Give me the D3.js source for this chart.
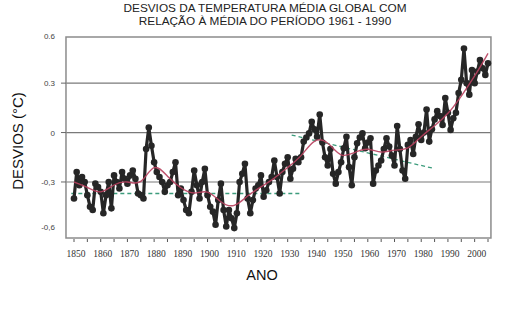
<!DOCTYPE html>
<html><head><meta charset="utf-8">
<script src="https://cdn.jsdelivr.net/npm/d3@7"></script>
<style>
html,body{margin:0;padding:0;background:#fff;}
svg{display:block;}
</style></head>
<body>
<svg id="chart" width="527" height="331"></svg>
<script>
// ---- data ----
const startYear = 1850;
const anomalies = [
 -0.40,-0.24,-0.32,-0.27,-0.30,-0.38,-0.45,-0.47,-0.31,-0.33, // 1850-59
 -0.36,-0.49,-0.38,-0.30,-0.46,-0.26,-0.30,-0.34,-0.24,-0.28, // 1860-69
 -0.31,-0.26,-0.23,-0.28,-0.37,-0.38,-0.40,-0.10, 0.03,-0.08, // 1870-79
 -0.18,-0.24,-0.27,-0.30,-0.36,-0.32,-0.30,-0.24,-0.18,-0.38, // 1880-89
 -0.34,-0.41,-0.47,-0.49,-0.36,-0.23,-0.32,-0.40,-0.30,-0.22, // 1890-99
 -0.38,-0.45,-0.48,-0.56,-0.41,-0.31,-0.47,-0.57,-0.47,-0.52, // 1900-09
 -0.58,-0.49,-0.30,-0.25,-0.19,-0.40,-0.49,-0.41,-0.34,-0.32, // 1910-19
 -0.26,-0.39,-0.35,-0.30,-0.27,-0.17,-0.27,-0.37,-0.24,-0.19, // 1920-29
 -0.15,-0.28,-0.22,-0.16,-0.18,-0.15,-0.055,-0.03,-0.005,0.066, // 1930-39
  0.02,-0.025,0.11,-0.06,-0.15,-0.20,-0.10,-0.25,-0.31,-0.24, // 1940-49
 -0.18,-0.095,-0.025,-0.21,-0.32,-0.15,-0.065,-0.03,-0.005,-0.095, // 1950-59
 -0.06,-0.035,-0.31,-0.23,-0.20,-0.17,-0.10,-0.035,-0.085,-0.14, // 1960-69
 -0.20, 0.04,-0.10,-0.23,-0.28,-0.075,-0.045,-0.13,-0.025,0.05, // 1970-79
 -0.045,0.00, 0.14,-0.055,0.02, 0.08, 0.13, 0.10, 0.046,0.21, // 1980-89
  0.12, 0.016,0.087,0.12, 0.24, 0.32, 0.51, 0.30, 0.23, 0.38, // 1990-99
  0.30, 0.37, 0.44, 0.39, 0.35, 0.42                          // 2000-05
];
const smoothYears = [1850,1855,1860,1865,1870,1875,1880,1885,1890,1895,1900,1905,1910,1915,1920,1925,1930,1935,1940,1945,1950,1955,1960,1965,1970,1975,1980,1985,1990,1995,2000,2005];
const smoothValues = [-0.30,-0.33,-0.38,-0.31,-0.29,-0.33,-0.17,-0.27,-0.34,-0.38,-0.34,-0.43,-0.46,-0.38,-0.33,-0.28,-0.21,-0.15,-0.03,-0.05,-0.16,-0.12,-0.09,-0.13,-0.10,-0.11,-0.02,0.04,0.11,0.22,0.34,0.48];
const trend1 = [{year:1849, value:-0.37},{year:1935, value:-0.37}];
const trend2 = [{year:1931.5, value:-0.015},{year:1984.5, value:-0.217}];
const yTicks = [-0.6,-0.3,0,0.3,0.6];
const yTickLabels = ["-0,6","-0,3","0","0.3","0.6"];
const yGrid = [-0.3,0,0.3];
const xLabelTicks = d3.range(1850, 2001, 10);
const xMinorTicks = d3.range(1850, 2006, 5);
const titleLines = ["DESVIOS DA TEMPERATURA MÉDIA GLOBAL COM","RELAÇÃO À MÉDIA DO PERÍODO 1961 - 1990"];

// ---- scales ----
const svg = d3.select("#chart");
const x = d3.scaleLinear().domain([1850, 2005]).range([74, 488]);
const y = d3.scaleLinear().domain([-0.64, 0.58]).range([238, 37]);
const xL = x(1847), xR = x(2006.1), yT = y(0.58), yB = y(-0.64);

const data = anomalies.map((v,i)=>({year:startYear+i, value:v}));
const smooth = smoothYears.map((yr,i)=>({year:yr, value:smoothValues[i]}));

// title
svg.append("g").selectAll("text").data(titleLines).join("text")
  .attr("x", 265).attr("y",(d,i)=>11.5+i*13)
  .attr("text-anchor","middle")
  .attr("font-family","Liberation Sans, Arial, sans-serif")
  .attr("font-size","11.8px").attr("fill","#222").text(d=>d);

// gridlines
svg.append("g").selectAll("line").data(yGrid).join("line")
  .attr("x1", xL).attr("x2", xR)
  .attr("y1", d=>y(d)).attr("y2", d=>y(d))
  .attr("stroke","#7a7a7a").attr("stroke-width",1.2);

// frame
svg.append("rect").attr("x",xL).attr("y",yT).attr("width",xR-xL).attr("height",yB-yT)
  .attr("fill","none").attr("stroke","#8c8c8c").attr("stroke-width",1.5);

// y axis ticks + labels
const yg = svg.append("g");
yg.selectAll("line").data(yGrid).join("line")
  .attr("x1", xL-5).attr("x2", xL).attr("y1", d=>y(d)).attr("y2", d=>y(d))
  .attr("stroke","#666").attr("stroke-width",1);
yg.selectAll("text").data(yTicks).join("text")
  .attr("x", 55).attr("y", d=>y(d)+ (d===0.6?5:(d===-0.6?-1:3)))
  .attr("text-anchor","end")
  .attr("font-family","Liberation Sans, Arial, sans-serif")
  .attr("font-size","8px").attr("fill","#444")
  .text((d,i)=>yTickLabels[i]);

// x axis ticks
const xg = svg.append("g");
xg.selectAll("line").data(xMinorTicks).join("line")
  .attr("x1", d=>x(d)).attr("x2", d=>x(d)).attr("y1", yB+1).attr("y2", yB+4)
  .attr("stroke","#555").attr("stroke-width",1);
xg.selectAll("text").data(xLabelTicks).join("text")
  .attr("x", d=>x(d)+2).attr("y", 257)
  .attr("text-anchor","middle")
  .attr("font-family","Liberation Serif, Times New Roman, serif")
  .attr("font-size","9.5px").attr("fill","#333").text(d=>d);

// axis titles
svg.append("text").attr("x",262).attr("y",280).attr("text-anchor","middle")
  .attr("font-family","Liberation Sans, Arial, sans-serif").attr("font-size","14.5px")
  .attr("fill","#111").text("ANO");
svg.append("text").attr("transform","translate(23,141) rotate(-90)").attr("text-anchor","middle")
  .attr("font-family","Liberation Sans, Arial, sans-serif").attr("font-size","15px")
  .attr("fill","#111").text("DESVIOS (°C)");

// trend lines
const lineGen = d3.line().x(d=>x(d.year)).y(d=>y(d.value));
[trend1, trend2].forEach(t=>{
  svg.append("path").datum(t).attr("d", lineGen)
    .attr("fill","none").attr("stroke","#3c9c7c").attr("stroke-width",1.3)
    .attr("stroke-dasharray","4,3");
});

// main series
svg.append("path").datum(data).attr("d", lineGen)
  .attr("fill","none").attr("stroke","#262626").attr("stroke-width",3.2)
  .attr("stroke-linejoin","round");
svg.append("g").selectAll("circle").data(data).join("circle")
  .attr("cx", d=>x(d.year)).attr("cy", d=>y(d.value)).attr("r", 3.3)
  .attr("fill","#262626");

// smoothed line
svg.append("path").datum(smooth)
  .attr("d", d3.line().x(d=>x(d.year)).y(d=>y(d.value)).curve(d3.curveBasis))
  .attr("fill","none").attr("stroke","#b8405e").attr("stroke-width",1.4).attr("opacity",0.9);
</script>
</body></html>
